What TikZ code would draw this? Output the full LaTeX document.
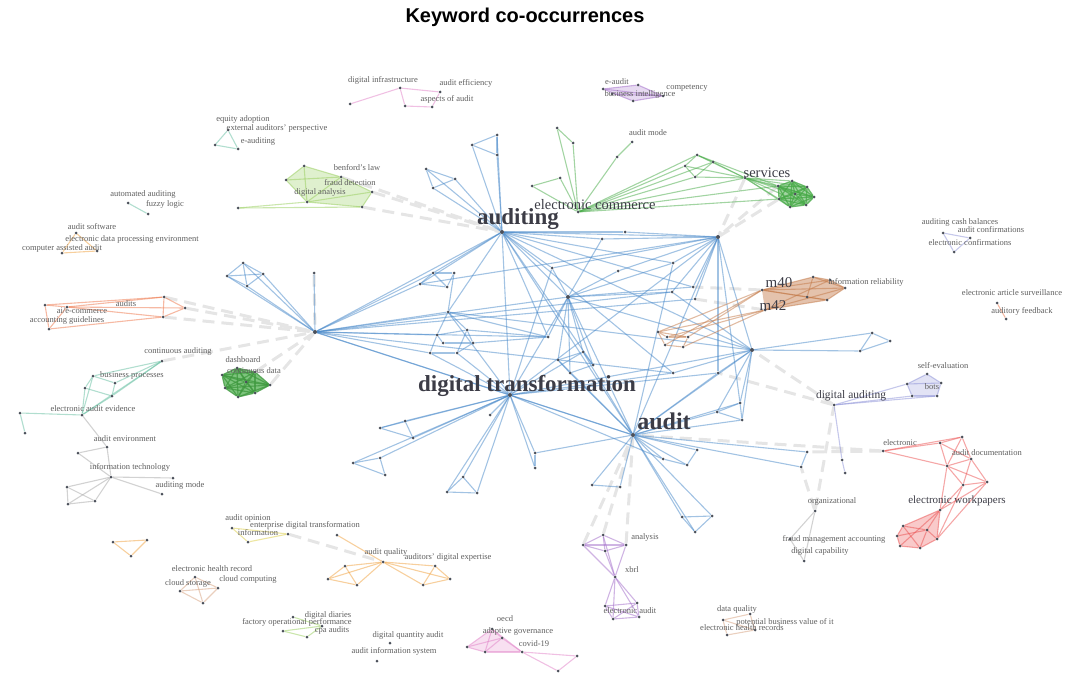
\documentclass[tikz,border=0pt]{standalone}
\usepackage{fontspec}
\setmainfont{Liberation Serif}
\newfontfamily\titlefont{Liberation Sans}
\pgfdeclarelayer{bg}
\pgfdeclarelayer{fills}
\pgfsetlayers{fills,bg,main}
\definecolor{cblue}{RGB}{70,135,200}
\definecolor{cgreen}{RGB}{70,170,70}
\definecolor{clime}{RGB}{150,205,90}
\definecolor{cteal}{RGB}{100,190,160}
\definecolor{cpink}{RGB}{225,130,200}
\definecolor{cpurple}{RGB}{160,105,200}
\definecolor{cred}{RGB}{235,80,80}
\definecolor{corange}{RGB}{240,160,60}
\definecolor{cbrown}{RGB}{195,120,70}
\definecolor{cgray}{RGB}{165,165,165}
\definecolor{clav}{RGB}{140,145,215}
\definecolor{cyellow}{RGB}{220,205,70}
\definecolor{cdot}{RGB}{75,80,90}
\definecolor{ctext}{RGB}{95,95,95}
\definecolor{chub}{RGB}{60,60,70}
\tikzset{
  dot/.style={circle,fill=cdot,inner sep=0pt,minimum size=3pt},
  hubdot/.style={circle,fill=cdot,inner sep=0pt,minimum size=4pt},
  ed/.style={line width=1.1pt,draw opacity=0.5},
  gdash/.style={draw=black!10,line width=3pt,dash pattern=on 12pt off 7pt},
  lbl/.style={font=\fontsize{8.5}{9}\selectfont,text=ctext,inner sep=0pt},
  mid/.style={font=\fontsize{14.5}{15}\selectfont,text=chub,inner sep=0pt},
  hub/.style={font=\bfseries\fontsize{23}{24}\selectfont,text=chub,inner sep=0pt},
}
\begin{document}
\begin{tikzpicture}[x=1pt,y=-1pt]
\useasboundingbox (0,0) rectangle (1075,679);
\node[font=\titlefont\bfseries\fontsize{20}{22}\selectfont,inner sep=0pt] (title) at (525,17) {Keyword co-occurrences};

% ---------- blue network nodes ----------
\foreach \n/\x/\y in {A/502/232,D/510/395,U/633/435,L/315/332,R/718/237,R2/752/350,M/568/297}
  \node[hubdot] (\n) at (\x,\y) {};
\foreach \n/\x/\y in {b1/497/135,b2/472/145,b3/497/155,b4/426/169,b5/455/179,b6/433/188,b7/314/273,
  b8/243/263,b9/227/276,b10/263/274,b11/247/286,b12/625/232,b13/602/239,b14/552/268,b15/618/271,b16/673/263,
  b17/693/287,b18/695/299,b19/672/292,b20/433/273,b21/454/273,b22/420/284,b23/447/287,b24/448/312,b25/437/335,
  b26/467/330,b27/430/353,b28/457/353,b29/473/343,b30/443/343,b31/548/337,b32/558/360,b33/583/352,b34/593/365,
  b35/570/373,b36/718/373,b37/673/373,b38/740/403,b39/717/412,b40/742/420,b41/697/450,b42/687/465,b43/663/459,
  b44/592/485,b45/620/487,b46/380/428,b47/405/421,b48/413/438,b49/353/463,b50/380/458,b51/385/475,b52/447/492,
  b53/463/477,b54/477/493,b55/490/415,b56/535/453,b57/535/468,b58/807/452,b59/801/467,b60/682/517,b61/712/516,
  b62/695/532,b63/872/333,b64/890/341,b65/860/351}
  \node[dot] (\n) at (\x,\y) {};

% ---------- other clusters ----------
\foreach \n/\x/\y in {E/578/212,g1/557/128,g2/573/143,g3/617/157,g4/632/142,g5/560/178,g6/532/186,g7/697/155,
  g8/713/162,g9/685/166,g10/695/177,S/745/178,s1/778/186,s2/792/181,s3/807/187,s4/814/197,s5/806/205,s6/790/207,
  s7/779/199,s8/795/194,
  l1/304/166,l2/286/180,l3/341/177,l4/372/192,l5/307/202,l6/362/207,l7/238/208,
  t1/228/130,t2/215/145,t3/238/149,
  p1/350/104,p2/400/88,p3/440/92,p4/405/106,p5/432/107,
  q1/603/89,q2/638/85,q3/663/96,q4/633/101,q5/612/94,
  ax1/128/203,ax2/148/214,
  o1/76/233,o2/97/251,o3/62/253,
  rl1/45/305,rl2/67/307,rl3/164/297,rl4/185/308,rl5/163/317,rl6/49/329,
  tc1/162/361,tc2/93/376,tc3/115/383,tc4/85/388,tc5/112/396,tc6/82/415,tc7/20/413,tc8/25/433,
  dg1/222/375,dg2/237/368,dg3/255/372,dg4/270/385,dg5/255/393,dg6/238/397,dg7/225/388,dg8/246/382,
  gy1/78/453,gy2/107/447,gy3/111/477,gy4/67/487,gy5/173/478,gy6/162/494,gy7/68/504,gy8/95/501,
  ot1/113/542,ot2/147/540,ot3/131/556,
  y1/232/528,y2/288/534,y3/248/542,y4/337/535,
  OH/383/562,oc1/328/579,oc2/345/566,oc3/357/585,oc4/435/566,oc5/450/579,oc6/423/585,
  br1/195/577,br2/180/591,br3/218/588,br4/203/603,
  lm1/293/617,lm2/283/631,lm3/307/637,lm4/322/626,
  sq1/390/643,sq2/377/661,
  pk1/492/629,pk2/502/638,pk3/467/647,pk4/485/652,pk5/522/652,pk6/577/656,pk7/558/671,
  pu1/583/545,pu2/603/535,pu3/626/545,pu4/605/551,pu5/615/577,pu6/605/606,pu7/637/603,pu8/613/619,pu9/639/617,
  dq1/750/614,dq2/723/620,dq3/755/630,dq4/727/635,
  go1/815/511,go2/790/539,go3/804/561,
  rr1/883/451,rr2/940/443,rr3/962/437,rr4/971/459,rr5/947/466,rr6/987/482,rr7/963/485,rr8/940/510,
  rr9/903/526,rr10/927/530,rr11/937/539,rr12/900/546,rr13/920/548,rr14/897/536,
  la1/927/374,la2/907/384,la3/941/383,la4/912/396,la5/937/396,DA/834/405,la6/842/460,la7/845/473,
  m1/762/290,m2/813/277,m3/830/280,m4/845/288,m5/827/300,m6/807/297,m7/765/310,
  mb1/658/332,mb2/667/337,mb3/688/337,mb4/683/347,mb5/665/345,
  cb1/943/233,cb2/970/238,cb3/954/252,ea1/997/303,ea2/1006/319}
  \node[dot] (\n) at (\x,\y) {};

% ---------- fills of dense clusters ----------
\begin{pgfonlayer}{fills}
\fill[cgreen!50!white] (s1.center)--(s2.center)--(s3.center)--(s4.center)--(s5.center)--(s6.center)--(s7.center)--cycle;
\fill[cgreen!70!white] (dg1.center)--(dg2.center)--(dg3.center)--(dg4.center)--(dg5.center)--(dg6.center)--(dg7.center)--cycle;
\fill[cbrown!45!white] (m1.center)--(m2.center)--(m3.center)--(m4.center)--(m5.center)--(m7.center)--cycle;
\fill[cpurple!25!white] (q1.center)--(q2.center)--(q3.center)--(q4.center)--cycle;
\fill[cpink!25!white] (pk1.center)--(pk2.center)--(pk5.center)--(pk4.center)--(pk3.center)--cycle;
\fill[cred!30!white] (rr9.center)--(rr8.center)--(rr11.center)--(rr13.center)--(rr12.center)--(rr14.center)--cycle;
\fill[clav!25!white] (la1.center)--(la3.center)--(la5.center)--(la4.center)--(la2.center)--cycle;
\fill[clime!30!white] (l1.center)--(l3.center)--(l4.center)--(l6.center)--(l5.center)--(l2.center)--cycle;
\end{pgfonlayer}

% ---------- edges ----------
\begin{pgfonlayer}{bg}
% grey dashed inter-cluster links
\foreach \a/\b in {l4/A,l6/A,l3/A,rl4/L,rl3/L,rl5/L,tc1/L,dg3/L,dg4/L,S/R,s1/R,s7/R,m1/b17,m7/b18,DA/R2,DA/b36,
  rr1/U,rr1/b58,go1/b59,go1/DA,pu2/U,pu1/U,pu3/U,y2/OH,b7/L}
  \draw[gdash] (\a) -- (\b);
% blue
\foreach \a/\b in {A/b1,b1/b2,b2/b3,b1/b3,A/b3,A/b2,b4/b5,b4/b6,b5/b6,A/b4,A/b5,A/b6,
  A/L,A/R,A/b12,A/b13,A/b14,A/M,A/b20,A/b22,A/b24,A/b37,A/R2,A/b17,A/D,A/b31,A/U,A/b34,A/b16,
  L/b7,L/b8,L/b9,L/b10,L/b11,b8/b9,b8/b10,b9/b11,b10/b11,b8/b11,b9/b10,
  L/b20,L/b22,L/b24,L/b25,L/b31,L/b27,L/D,L/U,L/b37,L/b19,L/M,L/b18,
  b20/b21,b20/b22,b21/b23,b22/b23,b20/b23,b24/b25,b24/b26,b25/b26,b25/b27,b26/b28,b27/b28,b28/b29,b29/b30,
  b30/b25,b26/b29,b24/b31,b26/b31,b29/b31,b27/D,b28/D,b24/D,b21/b24,
  D/b46,D/b47,D/b48,D/b49,D/b50,D/b52,D/b53,D/b54,D/b55,D/b56,D/b57,D/M,D/U,D/b37,D/R,D/R2,D/b33,D/b14,D/b36,D/b43,
  b46/b47,b47/b48,b46/b48,b49/b50,b50/b51,b49/b51,b52/b53,b53/b54,b52/b54,b56/b57,
  U/b38,U/b39,U/b40,U/b41,U/b42,U/b43,U/b44,U/b45,U/b60,U/b61,U/b62,U/b58,U/b59,U/R,U/R2,U/M,U/b36,U/b32,
  U/b33,U/b16,U/b35,U/b56,
  b38/b39,b39/b40,b38/b40,b41/b42,b42/b43,b44/b45,b60/b61,b61/b62,b60/b62,b58/b59,
  R/b12,R/b16,R/b15,R/b14,R/R2,R/b17,R/b18,R/b19,R/b36,R/b13,R/b22,R/b38,
  R2/b63,R2/b65,b63/b64,b64/b65,b63/b65,R2/b36,R2/b37,R2/b38,R2/b40,R2/b19,R2/M,R2/b24,R2/b39,
  M/b14,M/b15,M/b31,M/b32,M/b33,M/b34,M/b35,M/b19,M/b17,M/b13,M/b16,
  b32/b33,b33/b34,b34/b35,b32/b35}
  \draw[ed,cblue] (\a) -- (\b);
% green
\foreach \a/\b in {E/g2,g1/g2,g1/E,E/g3,g3/g4,E/g5,g5/g6,g6/E,E/g7,E/g8,E/g9,E/g10,g7/g8,g7/g9,g9/g10,g8/g10,
  g7/S,g8/S,g9/S,g10/S,E/S,E/s1,E/s7,g7/s1,S/s1,S/s2,S/s3,S/s4,S/s5,S/s6,S/s7,S/s8}
  \draw[ed,cgreen] (\a) -- (\b);
\foreach \a in {s1,s2,s3,s4,s5,s6,s7,s8}
  \foreach \b in {s1,s2,s3,s4,s5,s6,s7,s8}
    \draw[ed,cgreen] (\a) -- (\b);
\foreach \a in {dg1,dg2,dg3,dg4,dg5,dg6,dg7,dg8}
  \foreach \b in {dg1,dg2,dg3,dg4,dg5,dg6,dg7,dg8}
    \draw[ed,cgreen!90!black] (\a) -- (\b);
% lime
\foreach \a/\b in {l1/l2,l1/l3,l2/l5,l1/l5,l3/l4,l3/l5,l5/l6,l4/l6,l2/l3,l5/l4,l7/l5,l7/l6,
  lm2/lm3,lm3/lm4,lm2/lm4,lm1/lm4}
  \draw[ed,clime] (\a) -- (\b);
% teal
\foreach \a/\b in {t1/t2,t2/t3,t1/t3,ax1/ax2,
  tc1/tc2,tc1/tc3,tc1/tc5,tc1/tc6,tc2/tc4,tc3/tc5,tc4/tc6,tc5/tc6,tc2/tc3,tc6/tc7,tc7/tc8,tc2/tc6,tc4/tc5}
  \draw[ed,cteal] (\a) -- (\b);
% pink
\foreach \a/\b in {p1/p2,p2/p3,p2/p4,p4/p5,p3/p5,
  pk1/pk2,pk1/pk3,pk1/pk4,pk1/pk5,pk2/pk3,pk2/pk4,pk2/pk5,pk3/pk4,pk4/pk5,pk5/pk6,pk5/pk7,pk6/pk7}
  \draw[ed,cpink] (\a) -- (\b);
% purple
\foreach \a/\b in {q1/q2,q2/q3,q1/q4,q4/q3,q5/q3,q1/q3,
  pu1/pu2,pu2/pu3,pu1/pu4,pu4/pu3,pu1/pu3,pu2/pu4,pu1/pu5,pu3/pu5,pu2/pu5,pu4/pu5,pu5/pu6,pu5/pu7,pu5/pu8,
  pu5/pu9,pu6/pu7,pu6/pu8,pu7/pu9,pu8/pu9,pu6/pu9,pu7/pu8}
  \draw[ed,cpurple] (\a) -- (\b);
% orange / brown / yellow
\foreach \a/\b in {o1/o2,o2/o3,o1/o3,ot1/ot2,ot2/ot3,ot1/ot3,
  OH/oc1,OH/oc2,OH/oc3,OH/oc4,OH/oc5,OH/oc6,oc1/oc2,oc2/oc3,oc1/oc3,oc4/oc5,oc5/oc6,oc4/oc6,y4/OH}
  \draw[ed,corange] (\a) -- (\b);
\foreach \a/\b in {y1/y2,y2/y3,y1/y3}
  \draw[ed,cyellow] (\a) -- (\b);
\foreach \a/\b in {br1/br2,br1/br3,br1/br4,br2/br3,br2/br4,br3/br4,dq1/dq2,dq1/dq3,dq2/dq4,dq3/dq4,dq2/dq3}
  \draw[ed,cbrown!70!white] (\a) -- (\b);
\foreach \a/\b in {m1/m2,m1/m3,m1/m4,m1/m5,m1/m6,m2/m3,m3/m4,m4/m5,m5/m6,m6/m2,m2/m4,m7/m4,m7/m5,m7/m3,
  m1/mb1,m1/mb3,m7/mb2,m7/mb4,m1/mb5,m7/mb1,mb1/mb2,mb2/mb3,mb3/mb4,mb4/mb5,mb5/mb1,mb1/mb3}
  \draw[ed,cbrown] (\a) -- (\b);
% red
\foreach \a/\b in {rl1/rl2,rl2/rl3,rl1/rl3,rl2/rl5,rl3/rl4,rl4/rl5,rl3/rl5,rl1/rl6,rl6/rl2,rl6/rl5,rl2/rl4,ea1/ea2}
  \draw[ed,cred!55!corange] (\a) -- (\b);
\foreach \a/\b in {rr1/rr2,rr1/rr3,rr2/rr3,rr2/rr4,rr3/rr4,rr2/rr5,rr3/rr5,rr4/rr5,rr4/rr6,rr5/rr6,rr5/rr7,rr6/rr7,rr4/rr7,
  rr7/rr8,rr6/rr8,rr5/rr8,rr8/rr9,rr8/rr10,rr8/rr11,rr8/rr12,rr9/rr10,rr10/rr11,rr11/rr13,rr12/rr13,rr9/rr14,
  rr14/rr12,rr9/rr13,rr10/rr13,rr14/rr10,rr1/rr5,rr6/rr11,rr7/rr11}
  \draw[ed,cred] (\a) -- (\b);
% grey
\foreach \a/\b in {gy1/gy2,gy2/gy3,gy1/gy3,gy3/gy4,gy3/gy5,gy3/gy6,gy3/gy7,gy3/gy8,gy4/gy7,gy4/gy8,gy7/gy8,
  tc6/gy2,go1/go2,go1/go3,go2/go3}
  \draw[ed,cgray] (\a) -- (\b);
% lavender / light blue
\foreach \a/\b in {DA/la2,DA/la4,DA/la5,la1/la2,la1/la3,la2/la4,la3/la5,la4/la5,la2/la3,DA/la6,la6/la7,
  cb1/cb2,cb1/cb3,cb2/cb3}
  \draw[ed,clav] (\a) -- (\b);
\end{pgfonlayer}

% ---------- hub labels ----------
\node[hub] (hA) at (518,219) {auditing};
\node[hub] (hD) at (527,386) {digital transformation};
\node[hub,font=\bfseries\fontsize{24}{25}\selectfont] (hU) at (664,421) {audit};
\node[mid] (hE) at (595,205) {electronic commerce};
\node[mid] (hS) at (767,173) {services};
\node[mid,font=\fontsize{15}{16}\selectfont] (hm40) at (779,283) {m40};
\node[mid,font=\fontsize{15}{16}\selectfont] (hm42) at (773,306) {m42};
\node[mid,font=\fontsize{11.5}{12}\selectfont] (hDA) at (851,396) {digital auditing};
\node[mid,font=\fontsize{11}{12}\selectfont] (hEW) at (957,501) {electronic workpapers};

% ---------- small labels ----------
\node[lbl] (x1) at (383,80) {digital infrastructure};
\node[lbl] (x2) at (466,83) {audit efficiency};
\node[lbl] (x3) at (447,99) {aspects of audit};
\node[lbl] (x4) at (617,82) {e-audit};
\node[lbl] (x5) at (687,88) {competency};
\node[lbl] (x6) at (640,94) {business intelligence};
\node[lbl] (x7) at (648,133) {audit mode};
\node[lbl] (x8) at (243,119) {equity adoption};
\node[lbl] (x9) at (277,128) {external auditors' perspective};
\node[lbl] (x10) at (258,141) {e-auditing};
\node[lbl] (x11) at (357,168) {benford's law};
\node[lbl] (x12) at (350,183) {fraud detection};
\node[lbl] (x13) at (320,192) {digital analysis};
\node[lbl] (x14) at (143,194) {automated auditing};
\node[lbl] (x15) at (165,204) {fuzzy logic};
\node[lbl] (x16) at (92,227) {audit software};
\node[lbl] (x17) at (132,239) {electronic data processing environment};
\node[lbl] (x18) at (62,248) {computer assisted audit};
\node[lbl] (x19) at (126,304) {audits};
\node[lbl] (x20) at (82,311) {ai/e-commerce};
\node[lbl] (x21) at (67,320) {accounting guidelines};
\node[lbl] (x22) at (178,351) {continuous auditing};
\node[lbl] (x23) at (132,375) {business processes};
\node[lbl] (x24) at (93,409) {electronic audit evidence};
\node[lbl] (x25) at (243,360) {dashboard};
\node[lbl] (x26) at (254,371) {continuous data};
\node[lbl] (x27) at (125,439) {audit environment};
\node[lbl] (x28) at (130,467) {information technology};
\node[lbl] (x29) at (180,485) {auditing mode};
\node[lbl] (x30) at (248,518) {audit opinion};
\node[lbl] (x31) at (305,525) {enterprise digital transformation};
\node[lbl] (x32) at (258,533) {information};
\node[lbl] (x33) at (386,552) {audit quality};
\node[lbl] (x34) at (448,557) {auditors' digital expertise};
\node[lbl] (x35) at (212,569) {electronic health record};
\node[lbl] (x36) at (248,579) {cloud computing};
\node[lbl] (x37) at (188,583) {cloud storage};
\node[lbl] (x38) at (328,615) {digital diaries};
\node[lbl] (x39) at (297,622) {factory operational performance};
\node[lbl] (x40) at (332,630) {cpa audits};
\node[lbl] (x41) at (408,635) {digital quantity audit};
\node[lbl] (x42) at (394,651) {audit information system};
\node[lbl] (x43) at (505,619) {oecd};
\node[lbl] (x44) at (518,631) {adaptive governance};
\node[lbl] (x45) at (534,644) {covid-19};
\node[lbl] (x46) at (645,537) {analysis};
\node[lbl] (x47) at (632,570) {xbrl};
\node[lbl] (x48) at (630,611) {electronic audit};
\node[lbl] (x49) at (737,609) {data quality};
\node[lbl] (x50) at (785,622) {potential business value of it};
\node[lbl] (x51) at (742,628) {electronic health records};
\node[lbl] (x52) at (832,501) {organizational};
\node[lbl] (x53) at (834,539) {fraud management accounting};
\node[lbl] (x54) at (820,551) {digital capability};
\node[lbl] (x55) at (900,443) {electronic};
\node[lbl] (x56) at (987,453) {audit documentation};
\node[lbl] (x57) at (943,366) {self-evaluation};
\node[lbl] (x58) at (932,387) {bots};
\node[lbl] (x59) at (866,282) {information reliability};
\node[lbl] (x60) at (960,222) {auditing cash balances};
\node[lbl] (x61) at (991,230) {audit confirmations};
\node[lbl] (x62) at (970,243) {electronic confirmations};
\node[lbl] (x63) at (1012,293) {electronic article surveillance};
\node[lbl] (x64) at (1022,311) {auditory feedback};
\end{tikzpicture}
\end{document}
